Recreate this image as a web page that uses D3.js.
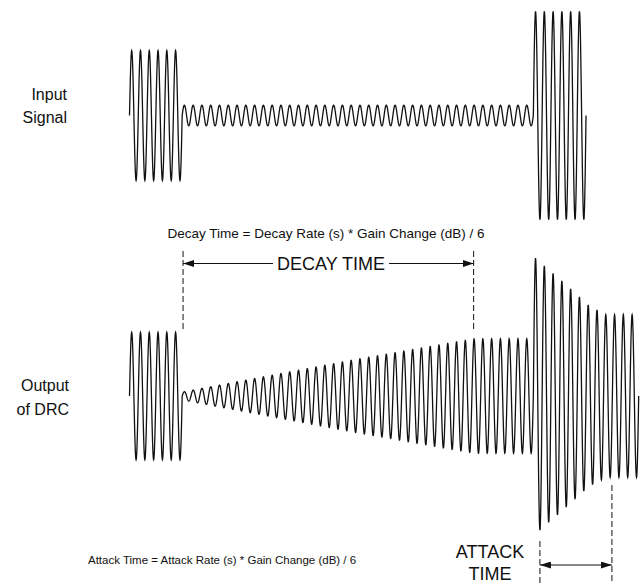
<!DOCTYPE html>
<html lang="en">
<head>
<meta charset="utf-8">
<title>DRC Decay and Attack</title>
<script src="https://cdn.jsdelivr.net/npm/d3@7"></script>
<style>
  body { margin: 0; background: #fff; }
  text { font-family: "Liberation Sans", Arial, sans-serif; fill: #111; }
</style>
</head>
<body>
<script>
var w = 640, h = 583;

// time axis is counted in carrier cycles, amplitude relative to the first burst
var cycles = 58;
var inputEnvelope = [[0, 1], [6, 1], [6, 0.16], [46, 0.16], [46, 1.6], [52, 1.6]];
var outputEnvelope = [[0, 0.98], [6, 0.98], [6, 0.06], [25.7, 0.56], [39.2, 0.88], [46, 0.88],
                      [46, 2.15], [49.25, 1.77], [52.25, 1.4], [54.25, 1.25], [58, 1.25]];
var decayMarks = [6.1, 39.2];
var attackMarks = [46.75, 54.95];
var inputLabel = ["Input", "Signal"];
var outputLabel = ["Output", "of DRC"];
var decayFormula = "Decay Time = Decay Rate (s) * Gain Change (dB) / 6";
var attackFormula = "Attack Time = Attack Rate (s) * Gain Change (dB) / 6";

var x = d3.scaleLinear().domain([0, cycles]).range([129.5, 638.7]);
var yIn = d3.scaleLinear().domain([-1, 1]).range([115.5 + 65, 115.5 - 65]);
var yOut = d3.scaleLinear().domain([-1, 1]).range([396 + 65, 396 - 65]);

function wave(env) {
  var pts = [];
  for (var i = 0; i < env.length - 1; i++) {
    var t0 = env[i][0], t1 = env[i + 1][0];
    if (t1 <= t0) continue;
    var amp = d3.scaleLinear().domain([t0, t1]).range([env[i][1], env[i + 1][1]]);
    var n = Math.round((t1 - t0) * 48);
    for (var k = 0; k <= n; k++) {
      var t = t0 + (t1 - t0) * k / n;
      pts.push({t: t, v: amp(t) * Math.sin(2 * Math.PI * t)});
    }
  }
  return pts;
}

var svg = d3.select("body").append("svg")
            .attr("width", w)
            .attr("height", h);

svg.append("defs").append("marker")
   .attr("id", "arrow")
   .attr("markerUnits", "userSpaceOnUse")
   .attr("markerWidth", 11).attr("markerHeight", 7)
   .attr("refX", 11).attr("refY", 3.5)
   .attr("orient", "auto-start-reverse")
   .append("path")
   .attr("d", "M0,0 L11,3.5 L0,7 z")
   .attr("fill", "#111");

svg.append("path")
   .datum(wave(inputEnvelope))
   .attr("fill", "none")
   .attr("stroke", "#111")
   .attr("stroke-width", 1.3)
   .attr("d", d3.line().x(d => x(d.t)).y(d => yIn(d.v)));

svg.append("path")
   .datum(wave(outputEnvelope))
   .attr("fill", "none")
   .attr("stroke", "#111")
   .attr("stroke-width", 1.3)
   .attr("d", d3.line().x(d => x(d.t)).y(d => yOut(d.v)));

// side labels
svg.selectAll("text.in")
   .data(inputLabel).enter().append("text")
   .attr("x", 67).attr("y", (d, i) => 100 + i * 23)
   .attr("text-anchor", "end")
   .style("font-size", "16px")
   .text(d => d);

svg.selectAll("text.out")
   .data(outputLabel).enter().append("text")
   .attr("x", 69).attr("y", (d, i) => 391 + i * 24)
   .attr("text-anchor", "end")
   .style("font-size", "16px")
   .text(d => d);

// decay time
svg.append("text")
   .attr("x", 326).attr("y", 238)
   .attr("text-anchor", "middle")
   .style("font-size", "13.5px")
   .text(decayFormula);

svg.selectAll("line.decay")
   .data(decayMarks).enter().append("line")
   .attr("x1", d => x(d)).attr("x2", d => x(d))
   .attr("y1", 251).attr("y2", 330)
   .attr("stroke", "#111").attr("stroke-width", 1)
   .attr("stroke-dasharray", "6,3");

svg.append("line")
   .attr("x1", 273).attr("x2", x(decayMarks[0]))
   .attr("y1", 263.5).attr("y2", 263.5)
   .attr("stroke", "#111").attr("stroke-width", 1.1)
   .attr("marker-end", "url(#arrow)");

svg.append("line")
   .attr("x1", 389).attr("x2", x(decayMarks[1]))
   .attr("y1", 263.5).attr("y2", 263.5)
   .attr("stroke", "#111").attr("stroke-width", 1.1)
   .attr("marker-end", "url(#arrow)");

svg.append("text")
   .attr("x", 331).attr("y", 270)
   .attr("text-anchor", "middle")
   .style("font-size", "18px")
   .text("DECAY TIME");

// attack time
svg.append("line")
   .attr("x1", x(attackMarks[0])).attr("x2", x(attackMarks[0]))
   .attr("y1", 541).attr("y2", 583)
   .attr("stroke", "#111").attr("stroke-width", 1)
   .attr("stroke-dasharray", "6,3");

svg.append("line")
   .attr("x1", x(attackMarks[1])).attr("x2", x(attackMarks[1]))
   .attr("y1", 485).attr("y2", 583)
   .attr("stroke", "#111").attr("stroke-width", 1)
   .attr("stroke-dasharray", "6,3");

svg.append("line")
   .attr("x1", x(attackMarks[0])).attr("x2", x(attackMarks[1]))
   .attr("y1", 565).attr("y2", 565)
   .attr("stroke", "#111").attr("stroke-width", 1.1)
   .attr("marker-start", "url(#arrow)")
   .attr("marker-end", "url(#arrow)");

svg.append("text")
   .attr("x", 88).attr("y", 564)
   .style("font-size", "11.5px")
   .text(attackFormula);

svg.selectAll("text.atk")
   .data(["ATTACK", "TIME"]).enter().append("text")
   .attr("x", 490).attr("y", (d, i) => 558 + i * 22)
   .attr("text-anchor", "middle")
   .style("font-size", "18px")
   .text(d => d);
</script>
</body>
</html>
